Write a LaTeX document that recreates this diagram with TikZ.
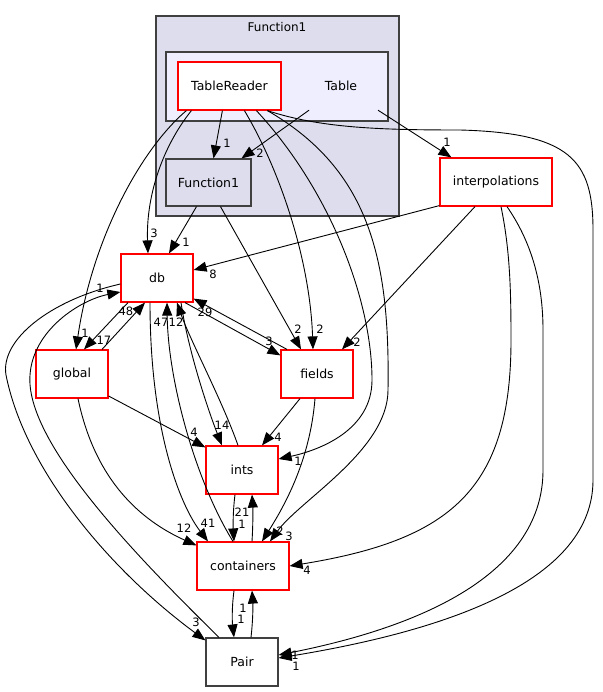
\documentclass[tikz,border=0pt]{standalone}
\usepackage{fontspec}
\setmainfont{DejaVu Sans}
\usepackage{tikz}
\usetikzlibrary{arrows.meta,positioning}
\definecolor{dclus}{HTML}{DDDDEE}
\definecolor{dsub}{HTML}{EEEEFF}
\definecolor{dline}{HTML}{404040}
\tikzset{
  >={Triangle[length=13pt,width=10pt]},
  dred/.style={draw=red, fill=white, line width=1.2pt, minimum width=72pt,
               minimum height=48pt, inner sep=0pt, font=\fontsize{12.5}{14}\selectfont},
  dblk/.style={draw=dline, fill=white, line width=1.2pt, minimum width=72pt,
               minimum height=48pt, inner sep=0pt, font=\fontsize{12.5}{14}\selectfont},
  dplain/.style={minimum width=72pt, minimum height=48pt, inner sep=0pt,
                 font=\fontsize{12.5}{14}\selectfont},
  dnum/.style={inner sep=0pt, font=\fontsize{11.5}{12}\selectfont},
  dedge/.style={->, black, line width=0.9pt},
}
\begin{document}
\begin{tikzpicture}[x=1pt, y=-1pt]
  \useasboundingbox (0,0) rectangle (602,692);
  \fill[white] (0,0) rectangle (602,692);

  % clusters
  \draw[dline, fill=dclus, line width=1.2pt] (156,16) rectangle (399,216);
  \node[font=\fontsize{12}{13}\selectfont] (fntitle) at (277,27) {Function1};
  \draw[dline, fill=dsub, line width=1.2pt] (166,52) rectangle (388,121);

  % directories
  \node[dred, minimum width=103pt] (trd) at (229.5,86) {TableReader};
  \node[dplain] (table) at (341,86) {Table};
  \node[dblk, fill=dclus, minimum width=85pt, minimum height=47pt] (fn) at (208.5,182.5) {Function1};
  \node[dred, minimum width=112pt] (interp) at (496,182) {interpolations};
  \node[dred] (db) at (157,278) {db};
  \node[dred] (glob) at (72,374) {global};
  \node[dred] (fields) at (317,374) {fields};
  \node[dred] (ints) at (242,470) {ints};
  \node[dred, minimum width=92pt] (cont) at (243,566) {containers};
  \node[dblk] (pair) at (242,662) {Pair};

  % TableReader and Table
  \draw[dedge] ([xshift=9pt]trd.south west) .. controls (140,150) and (92,240) .. ([xshift=4pt]glob.north);
  \draw[dedge] ([xshift=14pt]trd.south west) .. controls (160,150) and (146,200) .. ([xshift=-9pt]db.north);
  \draw[dedge] ([xshift=45pt]trd.south west) -- ([xshift=5pt]fn.north);
  \draw[dedge] ([xshift=-32pt]table.south) -- ([xshift=33pt]fn.north);
  \draw[dedge] ([xshift=37pt]table.south) -- ([xshift=12pt]interp.north west);
  \draw[dedge] ([xshift=67pt]trd.south west) .. controls (280,170) and (310,260) .. ([xshift=-4pt]fields.north);
  \draw[dedge] ([xshift=79pt]trd.south west) .. controls (330,190) and (372,300) .. (372,380)
    .. controls (372,430) and (320,450) .. ([yshift=11pt]ints.east);
  \draw[dedge] ([xshift=90pt]trd.south west) .. controls (370,170) and (390,260) .. (388,390)
    .. controls (388,450) and (300,500) .. ([xshift=27pt]cont.north);
  \draw[dedge] ([xshift=90pt]trd.south west) .. controls (320,128) and (380,130) .. (460,130)
    .. controls (570,133) and (593,160) .. (593,230) -- (593,480)
    .. controls (593,580) and (450,630) .. ([yshift=4pt]pair.east);

  % Function1
  \draw[dedge] ([xshift=-12pt]fn.south) -- ([xshift=12pt]db.north);
  \draw[dedge] ([xshift=12pt]fn.south) -- ([xshift=-16pt]fields.north);

  % interpolations
  \draw[dedge] ([yshift=1pt]interp.south west) -- ([yshift=8pt]db.east);
  \draw[dedge] ([xshift=-21pt]interp.south) -- ([xshift=25pt]fields.north);
  \draw[dedge] ([xshift=5pt]interp.south) .. controls (510,250) and (511,290) .. (511,340)
    .. controls (511,490) and (450,540) .. (cont.east);
  \draw[dedge] ([xshift=11pt]interp.south) .. controls (530,240) and (543,280) .. (543,330) -- (543,470)
    .. controls (543,570) and (430,625) .. ([yshift=7pt]pair.east);

  % db
  \draw[dedge] ([xshift=-29pt]db.south) -- ([xshift=12pt]glob.north);
  \draw[dedge] ([xshift=30pt]glob.north) -- ([xshift=-12pt]db.south);
  \draw[dedge] ([xshift=28pt]db.south) -- ([yshift=-6pt]fields.north west);
  \draw[dedge] ([xshift=-30pt]fields.north) -- ([yshift=4pt]db.south east);
  \draw[dedge] ([xshift=24pt]db.south) .. controls (188,350) and (208,410) .. ([xshift=-20pt]ints.north);
  \draw[dedge] ([xshift=-4pt]ints.north) .. controls (222,400) and (190,340) .. ([xshift=20pt]db.south);
  \draw[dedge] ([xshift=-10pt]cont.north) .. controls (195,480) and (168,380) .. ([xshift=10pt]db.south);
  \draw[dedge] ([xshift=-7pt]db.south) .. controls (150,430) and (180,505) .. ([xshift=-35pt]cont.north);
  \draw[dedge] ([yshift=-6pt]db.west) .. controls (50,300) and (0,340) .. (6,375)
    .. controls (25,470) and (110,570) .. ([yshift=-3pt]pair.north west);
  \draw[dedge] ([xshift=-23pt]pair.north) .. controls (130,550) and (25,440) .. (30,375)
    .. controls (33,330) and (80,300) .. ([yshift=-14pt]db.west);

  % global, fields
  \draw[dedge] ([yshift=-22pt]glob.east) -- ([yshift=-2pt]ints.north west);
  \draw[dedge] ([xshift=6pt]glob.south) .. controls (95,480) and (140,520) .. ([yshift=-4pt]cont.north west);
  \draw[dedge] ([xshift=-17pt]fields.south) -- ([xshift=20pt]ints.north);
  \draw[dedge] ([xshift=-2pt]fields.south) .. controls (310,460) and (285,505) .. ([xshift=19pt]cont.north);

  % ints, containers, Pair
  \draw[dedge] ([xshift=-7pt]ints.south) .. controls (233,510) and (233,525) .. ([xshift=-9pt]cont.north);
  \draw[dedge] ([xshift=9pt]cont.north) .. controls (253,525) and (253,510) .. ([xshift=10pt]ints.south);
  \draw[dedge] ([xshift=-9pt]cont.south) .. controls (232,605) and (232,620) .. ([xshift=-8pt]pair.north);
  \draw[dedge] ([xshift=9pt]pair.north) .. controls (253,620) and (253,605) .. ([xshift=9pt]cont.south);

  % counts
  \foreach \px/\py/\t [count=\i] in {
      85/333/1, 154/233/3, 227/143/1, 260/153/2, 447/142/1,
      320/329/2, 298/329/2, 357/342/2, 298/461/1, 289/536/3,
      280/531/2, 296/666/1, 295/655/1, 213/274/8, 307/570/4,
      186/242/1, 104/340/17, 126/311/48, 269/341/3, 205/312/29,
      222/425/14, 176/322/12, 161/322/47, 208/523/41, 196/622/3,
      100/288/1, 194/432/4, 184/528/12, 278/437/4, 242/524/1,
      242/512/21, 241/619/1, 243/608/1}
    \node[dnum] (lab\i) at (\px,\py) {\t};

\end{tikzpicture}
\end{document}
